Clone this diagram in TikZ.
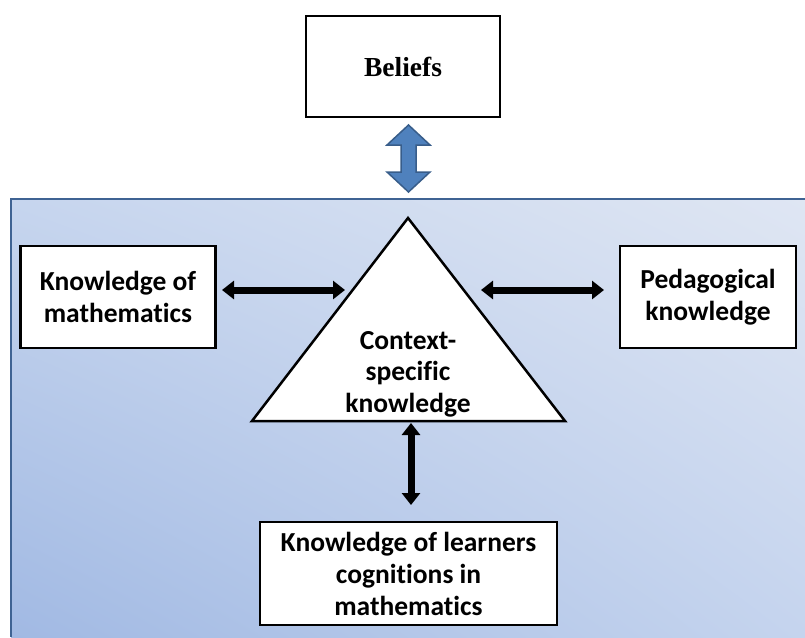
\documentclass[tikz,border=0pt]{standalone}
\usepackage{fontspec}
\setmainfont{Liberation Serif}
\newfontfamily\calfont[Ligatures=NoCommon]{Carlito}
\usetikzlibrary{arrows.meta,shadings}
\definecolor{bgLL}{HTML}{A1B9E3}
\definecolor{bgUL}{HTML}{C6D5EE}
\definecolor{bgUR}{HTML}{DFE6F3}
\definecolor{bgLR}{HTML}{C5D4EE}
\definecolor{bord}{HTML}{3F6393}
\definecolor{blkfill}{HTML}{4F81BD}
\definecolor{blkbord}{HTML}{385D8A}
\begin{document}
\begin{tikzpicture}[x=1pt,y=-1pt,
  kbox/.style={draw=black, line width=2.5pt, fill=white, align=center,
    font=\calfont\bfseries\fontsize{27.5}{32}\selectfont, inner sep=0pt, minimum height=102pt},
  dbl/.style={line width=7pt, {Triangle[length=12pt,width=18pt]}-{Triangle[length=12pt,width=18pt]}},
  blockarrow/.style={fill=blkfill, draw=blkbord, line width=1.5pt, line join=miter}]
\useasboundingbox (0,0) rectangle (805,637);
% background panel
\shade[lower left=bgLL, upper left=bgUL, upper right=bgUR, lower right=bgLR] (11,199) rectangle (805,637);
\draw[draw=bord, line width=2pt] (11,637) -- (11,199) -- (805,199);
% Beliefs
\node[draw=black, line width=2.5pt, fill=white, minimum width=194pt, minimum height=101pt, inner sep=0pt,
  font=\bfseries\fontsize{27.5}{32}\selectfont] (beliefs) at (403,66.5) {Beliefs};
% blue up-down block arrow
\draw[blockarrow] (408.5,125) -- (430,145) -- (416,145) -- (416,172) -- (430,172) -- (408.5,192)
  -- (387,172) -- (401,172) -- (401,145) -- (387,145) -- cycle;
% boxes
\node[kbox, minimum width=195pt] (math) at (118,297) {Knowledge of\\mathematics};
\node[kbox, minimum width=176pt] (ped) at (708,297) {Pedagogical\\knowledge};
\node[kbox, minimum width=297pt, minimum height=103pt] (learn) at (408.5,573.5) {Knowledge of learners\\cognitions in\\mathematics};
% triangle
\coordinate (apex) at (408,218);
\coordinate (bl) at (252,421);
\coordinate (br) at (565,421);
\draw[fill=white, line width=2.5pt, line join=miter] (apex) -- (br) -- (bl) -- cycle;
\node[align=center, font=\calfont\bfseries\fontsize{27.5}{31.5}\selectfont, inner sep=0pt] (ctx) at (408,374) {Context-\\specific\\knowledge};
% connectors
\coordinate (l1) at (222,290);
\coordinate (l2) at (345,290);
\coordinate (r1) at (481,290);
\coordinate (r2) at (604,290);
\coordinate (v1) at (411,423);
\coordinate (v2) at (411,505);
\draw[dbl] (l1) -- (l2);
\draw[dbl] (r1) -- (r2);
\draw[dbl] (v1) -- (v2);
\end{tikzpicture}
\end{document}
